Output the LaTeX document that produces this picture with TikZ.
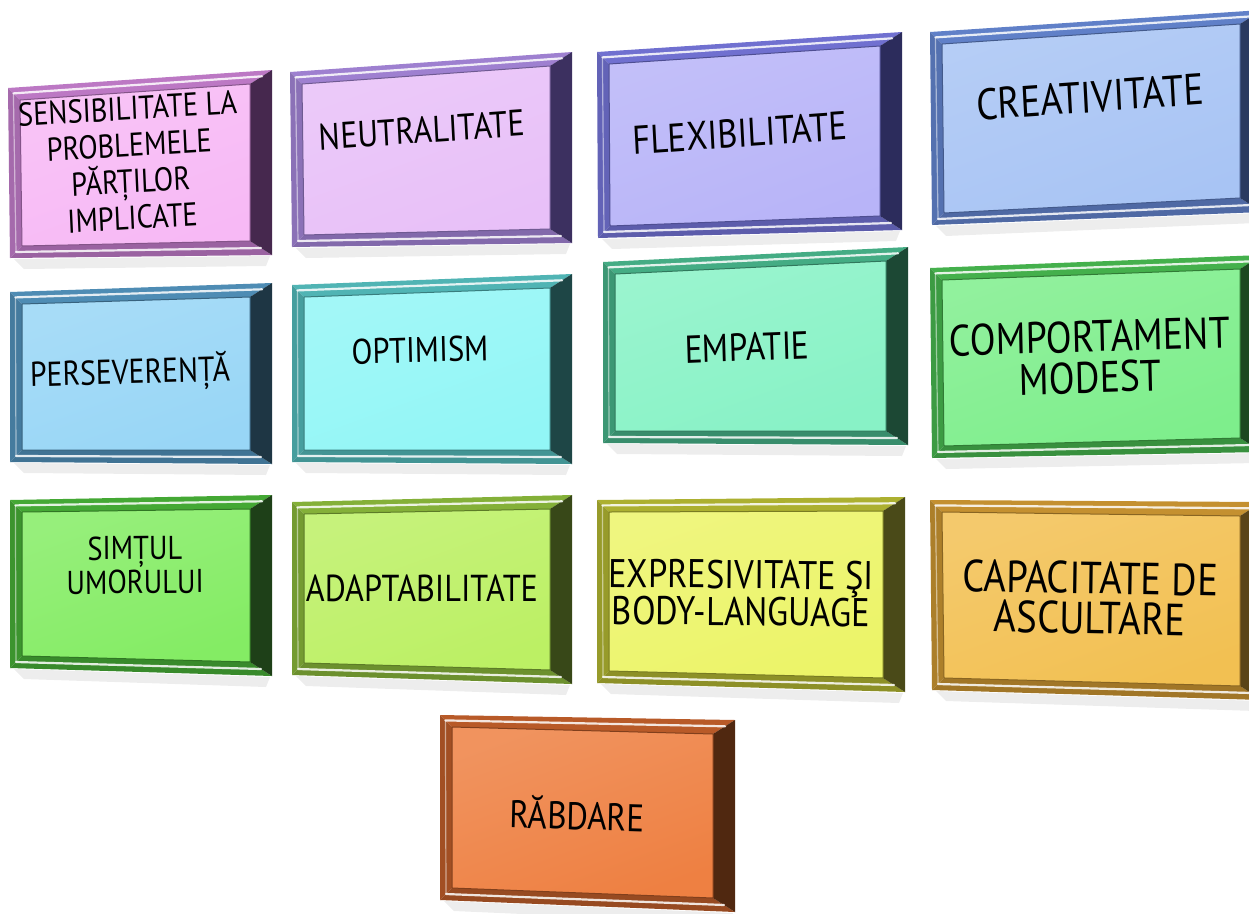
\documentclass[tikz,border=0pt]{standalone}
\usepackage{fontspec}
\setmainfont{PT Sans}
\usetikzlibrary{calc}
\definecolor{pinkF}{HTML}{F7B9F5}\definecolor{pinkB}{HTML}{BC78C4}\definecolor{pinkD}{HTML}{46284E}
\definecolor{neutF}{HTML}{E8C0F8}\definecolor{neutB}{HTML}{9E80D0}\definecolor{neutD}{HTML}{3C3060}
\definecolor{flexF}{HTML}{B8B4F8}\definecolor{flexB}{HTML}{7070D0}\definecolor{flexD}{HTML}{2C2C5C}
\definecolor{creaF}{HTML}{A8C4F4}\definecolor{creaB}{HTML}{6080C8}\definecolor{creaD}{HTML}{2A3A60}
\definecolor{persF}{HTML}{98D6F6}\definecolor{persB}{HTML}{4E8CB4}\definecolor{persD}{HTML}{1E3644}
\definecolor{optF}{HTML}{92F6F6}\definecolor{optB}{HTML}{50B4B4}\definecolor{optD}{HTML}{1E4646}
\definecolor{empF}{HTML}{88F2C6}\definecolor{empB}{HTML}{44AC84}\definecolor{empD}{HTML}{1C4834}
\definecolor{compF}{HTML}{7EEE8C}\definecolor{compB}{HTML}{44B04C}\definecolor{compD}{HTML}{1C4820}
\definecolor{simF}{HTML}{84EC64}\definecolor{simB}{HTML}{44A834}\definecolor{simD}{HTML}{1E4018}
\definecolor{adaF}{HTML}{BCF064}\definecolor{adaB}{HTML}{84B038}\definecolor{adaD}{HTML}{384818}
\definecolor{expF}{HTML}{ECF468}\definecolor{expB}{HTML}{ACB030}\definecolor{expD}{HTML}{4A4A18}
\definecolor{capF}{HTML}{F2C052}\definecolor{capB}{HTML}{C49030}\definecolor{capD}{HTML}{5A4418}
\definecolor{rabF}{HTML}{EE8042}\definecolor{rabB}{HTML}{B85A28}\definecolor{rabD}{HTML}{502810}
\newcommand\bevel[4]{%
  \fill[black,opacity=0.07] ($(#1o4)+(4,1)$) -- ($(#1o3)+(-2,1)$) -- ($(#1o3)+(-6,11)$) -- ($(#1o4)+(14,11)$) -- cycle;
  \coordinate (#1i1) at ($(#1o1)+(12,12)$);
  \coordinate (#1i2) at ($(#1o2)+(-22,14)$);
  \coordinate (#1i3) at ($(#1o3)+(-22,-14)$);
  \coordinate (#1i4) at ($(#1o4)+(12,-12)$);
  \fill[#3] (#1o1)--(#1o2)--(#1i2)--(#1i1)--cycle;
  \fill[#3!88!black] (#1o1)--(#1i1)--(#1i4)--(#1o4)--cycle;
  \fill[#3!82!black] (#1o4)--(#1i4)--(#1i3)--(#1o3)--cycle;
  \fill[#4] (#1o2)--(#1o3)--(#1i3)--(#1i2)--cycle;
  \shade[top color=#2!85!white,bottom color=#2,shading angle=20] (#1i1)--(#1i2)--(#1i3)--(#1i4)--cycle;
  \draw[#3!70!black,line width=1] (#1i1)--(#1i2)--(#1i3)--(#1i4)--cycle;
  \draw[white,line width=2.2,opacity=0.85,line cap=round] ($(#1o1)!0.45!(#1i1)$) -- ($(#1o2)!0.45!(#1i2)$);
  \draw[white,line width=2.2,opacity=0.85,line cap=round] ($(#1o4)!0.5!(#1i4)$) -- ($(#1o3)!0.5!(#1i3)$);
  \draw[white,line width=1.2,opacity=0.5] ($(#1o1)!0.45!(#1i1)$) -- ($(#1o4)!0.5!(#1i4)$);
}
\tikzset{lbl/.style={text=black,align=center,inner sep=0pt,xscale=0.86}}
\newcommand\fz[2]{\fontsize{#1}{#2}\selectfont}
\begin{document}
\begin{tikzpicture}[x=1pt,y=-1pt]
\useasboundingbox[fill=white] (0,0) rectangle (1249,913);
% row 1
\coordinate (ao1) at (8,88);   \coordinate (ao2) at (272,70);  \coordinate (ao3) at (272,255); \coordinate (ao4) at (10,258);
\coordinate (bo1) at (290,72); \coordinate (bo2) at (572,52);  \coordinate (bo3) at (572,243); \coordinate (bo4) at (292,247);
\coordinate (co1) at (597,52); \coordinate (co2) at (902,32);  \coordinate (co3) at (902,230); \coordinate (co4) at (598,238);
\coordinate (do1) at (930,32); \coordinate (do2) at (1262,10); \coordinate (do3) at (1262,212);\coordinate (do4) at (932,225);
% row 2
\coordinate (eo1) at (10,292); \coordinate (eo2) at (272,283); \coordinate (eo3) at (272,464); \coordinate (eo4) at (10,462);
\coordinate (fo1) at (292,285);\coordinate (fo2) at (572,274); \coordinate (fo3) at (572,464); \coordinate (fo4) at (292,462);
\coordinate (go1) at (603,262);\coordinate (go2) at (908,247); \coordinate (go3) at (908,445); \coordinate (go4) at (603,443);
\coordinate (ho1) at (930,268);\coordinate (ho2) at (1262,255);\coordinate (ho3) at (1262,452);\coordinate (ho4) at (932,458);
% row 3
\coordinate (io1) at (10,500); \coordinate (io2) at (272,495); \coordinate (io3) at (272,676); \coordinate (io4) at (10,668);
\coordinate (jo1) at (292,502);\coordinate (jo2) at (572,495); \coordinate (jo3) at (572,684); \coordinate (jo4) at (292,675);
\coordinate (ko1) at (597,500);\coordinate (ko2) at (905,497); \coordinate (ko3) at (905,692); \coordinate (ko4) at (597,683);
\coordinate (lo1) at (930,500);\coordinate (lo2) at (1262,502);\coordinate (lo3) at (1262,700);\coordinate (lo4) at (932,690);
% row 4
\coordinate (mo1) at (440,715);\coordinate (mo2) at (735,720); \coordinate (mo3) at (735,912); \coordinate (mo4) at (440,900);
\bevel{a}{pinkF}{pinkB}{pinkD}
\bevel{b}{neutF}{neutB}{neutD}
\bevel{c}{flexF}{flexB}{flexD}
\bevel{d}{creaF}{creaB}{creaD}
\bevel{e}{persF}{persB}{persD}
\bevel{f}{optF}{optB}{optD}
\bevel{g}{empF}{empB}{empD}
\bevel{h}{compF}{compB}{compD}
\bevel{i}{simF}{simB}{simD}
\bevel{j}{adaF}{adaB}{adaD}
\bevel{k}{expF}{expB}{expD}
\bevel{l}{capF}{capB}{capD}
\bevel{m}{rabF}{rabB}{rabD}
\node[lbl,rotate=3,font=\fz{33}{36.5}] (ta) at (130,163) {SENSIBILITATE LA\\PROBLEMELE\\PĂRȚILOR\\IMPLICATE};
\node[lbl,rotate=3.5,font=\fz{37}{42}] (tb) at (422,130) {NEUTRALITATE};
\node[lbl,rotate=3.5,font=\fz{40}{44}] (tc) at (740,133) {FLEXIBILITATE};
\node[lbl,rotate=3.5,font=\fz{44}{48}] (td) at (1090,97) {CREATIVITATE};
\node[lbl,rotate=1.5,font=\fz{34.5}{40}] (te) at (130,373) {PERSEVERENȚĂ};
\node[lbl,rotate=1.5,font=\fz{35.5}{40}] (tf) at (420,350) {OPTIMISM};
\node[lbl,rotate=2,font=\fz{39}{44}] (tg) at (747,347) {EMPATIE};
\node[lbl,rotate=1.5,font=\fz{44}{41}] (th) at (1090,357) {COMPORTAMENT\\MODEST};
\node[lbl,rotate=0.5,font=\fz{33}{34}] (ti) at (135,565) {SIMȚUL\\UMORULUI};
\node[lbl,rotate=0,font=\fz{37.5}{42}] (tj) at (422,588) {ADAPTABILITATE};
\node[lbl,rotate=-0.5,font=\fz{40}{37}] (tk) at (741,593) {EXPRESIVITATE ŞI\\BODY-LANGUAGE};
\node[lbl,rotate=-1,font=\fz{45}{40}] (tl) at (1090,598) {CAPACITATE DE\\ASCULTARE};
\node[lbl,rotate=-1.5,font=\fz{38.5}{42}] (tm) at (577,813) {RĂBDARE};
\end{tikzpicture}
\end{document}
